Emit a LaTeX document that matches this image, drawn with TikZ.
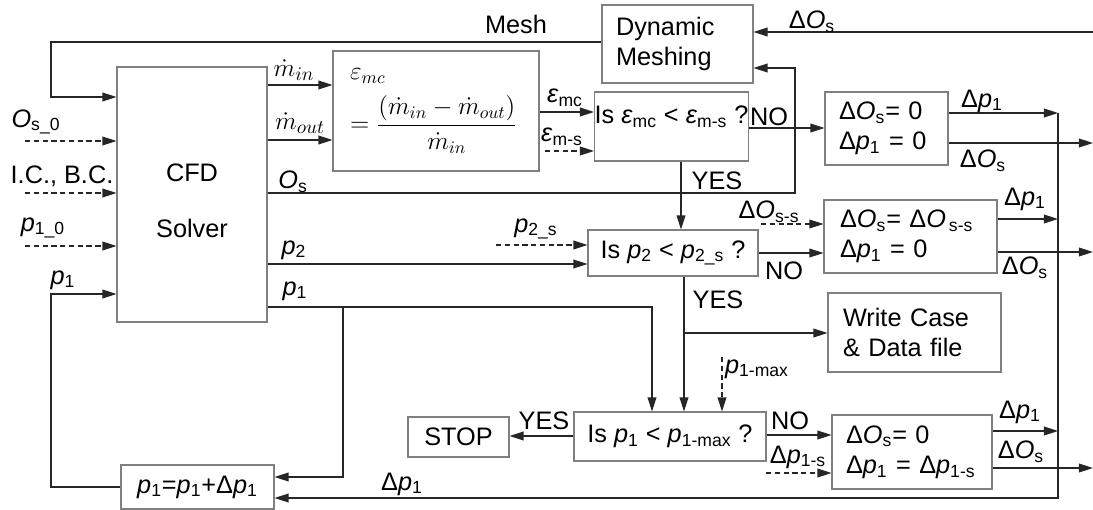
\documentclass[tikz,border=0pt]{standalone}
\usepackage{fontspec}
\setmainfont{Liberation Sans}
\usepackage{amsmath}
\usetikzlibrary{arrows.meta}
\newcommand{\isub}[2]{\textit{#1}\textsubscript{#2}}

\begin{document}
\begin{tikzpicture}[
    x=0.02cm, y=-0.02cm,
    font=\fontsize{14.4pt}{17.3pt}\selectfont,
    box/.style={rectangle, draw=black!50, line width=0.6pt,
                inner sep=0pt, align=center},
    lbox/.style={rectangle, draw=black!50, line width=0.6pt,
                inner xsep=0.28cm, inner ysep=0pt, align=left, text width=#1},
    lbl/.style={inner sep=0pt},
    mlbl/.style={inner sep=0pt, font=\fontsize{15.5pt}{18pt}\selectfont},
    arr/.style={-{Triangle[length=8pt, width=5pt]}, line width=0.7pt, black!85},
    darr/.style={arr, dash pattern=on 3pt off 2pt},
    line/.style={line width=0.7pt, black!70}
  ]
  \useasboundingbox (0,0) rectangle (1093,510);

  %% ---- Solver and mass check ----
  \node[box, minimum width=3cm, minimum height=5.1cm] (cfd) at (192,194.5)
       {\rule{0pt}{0.6cm}CFD\\[0.5cm]Solver};
  \node[lbox=3.44cm, inner xsep=0.34cm, minimum height=2.4cm] (emc) at (436,111)
       {$\varepsilon_{mc}$\\[6pt]
        $=\dfrac{(\dot{m}_{in}-\dot{m}_{out})}{\dot{m}_{in}}$};
  \node[lbox=2.46cm, minimum height=1.56cm] (dyn) at (677.5,44)
       {Dynamic\\Meshing};

  %% ---- Decisions ----
  \node[box, minimum width=3.02cm, minimum height=1.38cm,
        text height=11pt, text depth=14pt] (q1) at (671.5,126.5)
       {Is \isub{ε}{mc} < \isub{ε}{m-s} ?};
  \node[box, minimum width=3.4cm, minimum height=0.92cm] (q2) at (673,253)
       {Is \isub{p}{2} < \isub{p}{2\_s} ?};
  \node[box, minimum width=3.84cm, minimum height=0.98cm] (q3) at (670,436.5)
       {Is \isub{p}{1} < \isub{p}{1-max} ?};

  %% ---- Updates ----
  \node[lbox=1.9cm, minimum height=1.46cm] (b1) at (886.5,128.5)
       {Δ\isub{O}{s}= 0\\Δ\isub{p}{1} = 0};
  \node[lbox=2.82cm, inner xsep=0.32cm, minimum height=1.46cm] (b2) at (910.5,236.5)
       {Δ\isub{O}{s}= Δ\isub{O}{\,s-s}\\Δ\isub{p}{1} = 0};
  \node[lbox=2.86cm, inner xsep=0.3cm, minimum height=1.58cm] (wc) at (914.5,332.5)
       {Write Case\\\& Data file};
  \node[lbox=2.64cm, minimum height=1.48cm] (b3) at (912,452)
       {Δ\isub{O}{s}= 0\\Δ\isub{p}{1} = Δ\isub{p}{1-s}};
  \node[box, minimum width=2.02cm, minimum height=0.8cm] (stop) at (458.5,437) {STOP};
  \node[box, minimum width=3.06cm, minimum height=0.88cm] (upd) at (197.5,487)
       {\isub{p}{1}=\isub{p}{1}+Δ\isub{p}{1}};

  %% ---- Free ends ----
  \coordinate (os0)  at (25,141);
  \coordinate (icbc) at (25,193);
  \coordinate (p10)  at (25,246);
  \coordinate (ems)  at (545,151);
  \coordinate (p2s)  at (496,245);
  \coordinate (doss) at (761,224);
  \coordinate (p1mx) at (722,357);
  \coordinate (dp1s) at (766,473);
  \coordinate (rtop) at (1058,113);
  \coordinate (pbr)  at (343,307);
  \coordinate (ybr)  at (684,333);

  %% ---- Inputs to the solver ----
  \draw[darr] (os0)  -- (os0 -| cfd.west);
  \draw[darr] (icbc) -- (icbc -| cfd.west);
  \draw[darr] (p10)  -- (p10 -| cfd.west);
  \draw[arr] (dyn.west |- 0,42) -| (51,97) -- (cfd.west |- 0,97);
  \draw[arr] (upd.west) -| (51,294) -- (cfd.west |- 0,294);

  %% ---- Solver outputs ----
  \draw[arr] (cfd.east |- 0,85)  -- (emc.west |- 0,85);
  \draw[arr] (cfd.east |- 0,140) -- (emc.west |- 0,140);
  \draw[arr] (cfd.east |- 0,193) -| (795,68) -- (dyn.east |- 0,68);
  \draw[arr] (cfd.east |- 0,264) -- (q2.west |- 0,264);
  \draw[arr] (cfd.east |- 0,307) -| (q3.north -| 652,0);
  \draw[arr] (pbr) |- (upd.east |- 0,477);

  %% ---- Decision flow ----
  \draw[arr] (emc.east |- 0,112) -- (q1.west |- 0,112);
  \draw[darr] (ems) -- (ems -| q1.west);
  \draw[arr] (q1.east |- 0,128) -- (b1.west |- 0,128);
  \draw[arr] (q1.south -| 681,0) -- (q2.north -| 681,0);
  \draw[darr] (p2s) -- (p2s -| q2.west);
  \draw[arr] (q2.east |- 0,253) -- (b2.west |- 0,253);
  \draw[darr] (doss) -- (doss -| b2.west);
  \draw[arr] (q2.south -| 684,0) -- (q3.north -| 684,0);
  \draw[arr] (ybr) -- (ybr -| wc.west);
  \draw[darr] (p1mx) -- (q3.north -| p1mx);
  \draw[arr] (q3.west |- 0,436) -- (stop.east |- 0,436);
  \draw[arr] (q3.east |- 0,435) -- (b3.west |- 0,435);
  \draw[darr] (dp1s) -- (dp1s -| b3.west);

  %% ---- Update outputs ----
  \draw[arr] (1093,32) -- (dyn.east |- 0,32);
  \draw[arr] (b1.east |- rtop) -- (rtop);
  \draw[arr] (b1.east |- 0,143) -- (1093,143);
  \draw[arr] (b2.east |- 0,219) -- (1058,219);
  \draw[arr] (b2.east |- 0,252) -- (1093,252);
  \draw[arr] (b3.east |- 0,431) -- (1058,431);
  \draw[arr] (b3.east |- 0,468) -- (1093,468);
  \draw[arr] (rtop) |- (upd.east |- 0,498);

  %% ---- Labels ----
  \node[lbl] (lmesh) at (516,24)   {Mesh};
  \node[mlbl] (lmin)  at (294,70)  {$\dot{m}_{in}$};
  \node[mlbl] (lmout) at (300,123) {$\dot{m}_{out}$};
  \node[lbl] (los)   at (293,182)  {\isub{O}{s}};
  \node[lbl] (lp2)   at (294,250)  {\isub{p}{2}};
  \node[lbl] (lp1)   at (295,291)  {\isub{p}{1}};
  \node[lbl] (los0)  at (36,122)   {\isub{O}{s\_0}};
  \node[lbl] (licbc) at (62,176)   {I.C., B.C.};
  \node[lbl] (lp10)  at (43,228)   {\isub{p}{1\_0}};
  \node[lbl] (lp1in) at (63,280)   {\isub{p}{1}};
  \node[lbl] (lemc)  at (565,98)   {\isub{ε}{mc}};
  \node[lbl] (lems)  at (562,137)  {\isub{ε}{m-s}};
  \node[lbl] (lno1)  at (769,117)  {NO};
  \node[lbl] (ldos)  at (812,22)   {Δ\isub{O}{s}};
  \node[lbl] (lb1p)  at (982,101)  {Δ\isub{p}{1}};
  \node[lbl] (lb1o)  at (983,161)  {Δ\isub{O}{s}};
  \node[lbl] (lyes1) at (717,181)  {YES};
  \node[lbl] (lp2s)  at (536,229)  {\isub{p}{2\_s}};
  \node[lbl] (ldoss) at (769,212)  {Δ\isub{O}{s-s}};
  \node[lbl] (lno2)  at (784,271)  {NO};
  \node[lbl] (lb2p)  at (1025,199) {Δ\isub{p}{1}};
  \node[lbl] (lb2o)  at (1025,268) {Δ\isub{O}{s}};
  \node[lbl] (lyes2) at (718,300)  {YES};
  \node[lbl] (lp1mx) at (757,369)  {\isub{p}{1-max}};
  \node[lbl] (lyes3) at (544,421)  {YES};
  \node[lbl] (lno3)  at (790,421)  {NO};
  \node[lbl] (ldp1s) at (798,457)  {Δ\isub{p}{1-s}};
  \node[lbl] (lb3p)  at (1020,412) {Δ\isub{p}{1}};
  \node[lbl] (lb3o)  at (1021,452) {Δ\isub{O}{s}};
  \node[lbl] (ldp1)  at (402,484)  {Δ\isub{p}{1}};

\end{tikzpicture}
\end{document}
